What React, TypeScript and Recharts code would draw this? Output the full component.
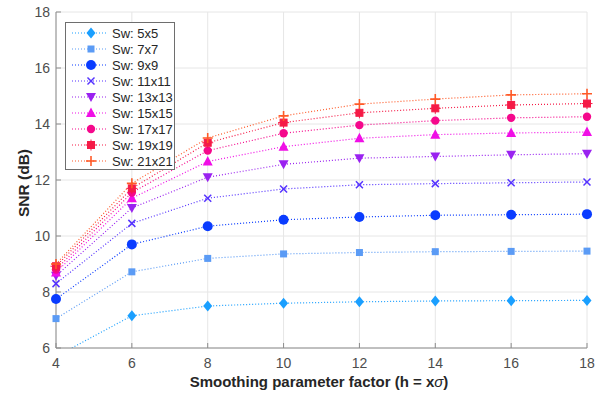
import React from "react";
import {
  LineChart,
  Line,
  XAxis,
  YAxis,
  CartesianGrid,
  Legend,
} from "recharts";

// smoothing factor h = x*sigma
const factors: number[] = [4, 6, 8, 10, 12, 14, 16, 18];

// SNR (dB) for each search window size
const sw5: number[] = [5.7, 7.15, 7.5, 7.6, 7.65, 7.68, 7.69, 7.7];
const sw7: number[] = [7.05, 8.72, 9.2, 9.36, 9.41, 9.44, 9.45, 9.46];
const sw9: number[] = [7.75, 9.7, 10.35, 10.58, 10.68, 10.74, 10.76, 10.78];
const sw11: number[] = [8.3, 10.45, 11.35, 11.68, 11.83, 11.87, 11.9, 11.93];
const sw13: number[] = [8.58, 11.0, 12.1, 12.56, 12.78, 12.84, 12.9, 12.94];
const sw15: number[] = [8.7, 11.35, 12.66, 13.19, 13.49, 13.62, 13.68, 13.71];
const sw17: number[] = [8.8, 11.55, 13.05, 13.67, 13.96, 14.12, 14.22, 14.26];
const sw19: number[] = [8.92, 11.7, 13.33, 14.05, 14.4, 14.56, 14.68, 14.73];
const sw21: number[] = [9.0, 11.88, 13.5, 14.29, 14.71, 14.89, 15.04, 15.08];

const xTicks: number[] = [4, 6, 8, 10, 12, 14, 16, 18];
const yTicks: number[] = [6, 8, 10, 12, 14, 16, 18];

type MarkerShape =
  | "diamond"
  | "square"
  | "circle"
  | "cross"
  | "triDown"
  | "triUp"
  | "dot"
  | "starSquare"
  | "plus";

interface SeriesDef {
  key: string;
  name: string;
  values: number[];
  color: string;
  shape: MarkerShape;
}

const series: SeriesDef[] = [
  { key: "s5", name: "Sw: 5x5", values: sw5, color: "#1a9fff", shape: "diamond" },
  { key: "s7", name: "Sw: 7x7", values: sw7, color: "#5b9bf5", shape: "square" },
  { key: "s9", name: "Sw: 9x9", values: sw9, color: "#0a3cff", shape: "circle" },
  { key: "s11", name: "Sw: 11x11", values: sw11, color: "#5533ff", shape: "cross" },
  { key: "s13", name: "Sw: 13x13", values: sw13, color: "#9a22f0", shape: "triDown" },
  { key: "s15", name: "Sw: 15x15", values: sw15, color: "#f00ee6", shape: "triUp" },
  { key: "s17", name: "Sw: 17x17", values: sw17, color: "#f5088c", shape: "dot" },
  { key: "s19", name: "Sw: 19x19", values: sw19, color: "#f51b47", shape: "starSquare" },
  { key: "s21", name: "Sw: 21x21", values: sw21, color: "#ff5a28", shape: "plus" },
];

const data = factors.map((x, i) => {
  const row: Record<string, number> = { x };
  series.forEach((s) => {
    row[s.key] = s.values[i];
  });
  return row;
});

const FONT = "'Liberation Sans', Arial, sans-serif";
const AXIS_COLOR = "#8c8c8c";
const TICK_COLOR = "#4d4d4d";

const Marker = ({
  cx,
  cy,
  shape,
  color,
}: {
  cx: number;
  cy: number;
  shape: MarkerShape;
  color: string;
}) => {
  switch (shape) {
    case "diamond":
      return (
        <polygon
          points={`${cx},${cy - 5.5} ${cx + 4.5},${cy} ${cx},${cy + 5.5} ${cx - 4.5},${cy}`}
          fill={color}
        />
      );
    case "square":
      return <rect x={cx - 3.5} y={cy - 3.5} width={7} height={7} fill={color} />;
    case "circle":
      return <circle cx={cx} cy={cy} r={5} fill={color} />;
    case "cross":
      return (
        <g stroke={color} strokeWidth={1.5}>
          <line x1={cx - 3.5} y1={cy - 3.5} x2={cx + 3.5} y2={cy + 3.5} />
          <line x1={cx - 3.5} y1={cy + 3.5} x2={cx + 3.5} y2={cy - 3.5} />
        </g>
      );
    case "triDown":
      return (
        <polygon
          points={`${cx - 5},${cy - 4} ${cx + 5},${cy - 4} ${cx},${cy + 5}`}
          fill={color}
        />
      );
    case "triUp":
      return (
        <polygon
          points={`${cx - 5},${cy + 4} ${cx + 5},${cy + 4} ${cx},${cy - 5.5}`}
          fill={color}
        />
      );
    case "dot":
      return <circle cx={cx} cy={cy} r={4.2} fill={color} />;
    case "starSquare":
      return (
        <g fill={color} stroke={color} strokeWidth={1}>
          <rect x={cx - 3.5} y={cy - 3.5} width={7} height={7} />
          <line x1={cx} y1={cy - 5.5} x2={cx} y2={cy + 5.5} />
          <line x1={cx - 5.5} y1={cy} x2={cx + 5.5} y2={cy} />
        </g>
      );
    case "plus":
      return (
        <g stroke={color} strokeWidth={1.6}>
          <line x1={cx - 5} y1={cy} x2={cx + 5} y2={cy} />
          <line x1={cx} y1={cy - 5} x2={cx} y2={cy + 5} />
        </g>
      );
    default:
      return null;
  }
};

// tick renderers: inward tick marks (MATLAB style) plus labels
const BottomTick = (props: any) => {
  const { x, y, payload } = props;
  return (
    <g>
      <line x1={x} y1={y} x2={x} y2={y - 5} stroke={AXIS_COLOR} />
      <text
        x={x}
        y={y + 20}
        textAnchor="middle"
        fontSize={14}
        fontFamily={FONT}
        fill={TICK_COLOR}
      >
        {payload.value}
      </text>
    </g>
  );
};

const LeftTick = (props: any) => {
  const { x, y, payload } = props;
  return (
    <g>
      <line x1={x} y1={y} x2={x + 5} y2={y} stroke={AXIS_COLOR} />
      <text
        x={x - 6}
        y={y}
        dy="0.35em"
        textAnchor="end"
        fontSize={14}
        fontFamily={FONT}
        fill={TICK_COLOR}
      >
        {payload.value}
      </text>
    </g>
  );
};

const TopTick = (props: any) => {
  const { x, y } = props;
  return <line x1={x} y1={y} x2={x} y2={y + 5} stroke={AXIS_COLOR} />;
};

const RightTick = (props: any) => {
  const { x, y } = props;
  return <line x1={x} y1={y} x2={x - 5} y2={y} stroke={AXIS_COLOR} />;
};

const LEGEND_W = 108;
const LEGEND_H = 146;

const LegendBox = () => (
  <div
    style={{
      border: "1px solid #6e6e6e",
      background: "#fff",
      width: LEGEND_W,
      height: LEGEND_H,
    }}
  >
    <svg width={LEGEND_W} height={LEGEND_H}>
      {series.map((s, i) => {
        const cy = 10 + i * 16;
        return (
          <g key={s.key}>
            <line
              x1={6}
              y1={cy}
              x2={41}
              y2={cy}
              stroke={s.color}
              strokeWidth={1.2}
              strokeDasharray="1 2"
            />
            <Marker cx={25} cy={cy} shape={s.shape} color={s.color} />
            <text
              x={46}
              y={cy}
              dy="0.35em"
              fontSize={13}
              fontFamily={FONT}
              fill="#262626"
            >
              {s.name}
            </text>
          </g>
        );
      })}
    </svg>
  </div>
);

const App = () => {
  return (
    <div
      style={{
        position: "absolute",
        left: 0,
        top: 0,
        width: 602,
        height: 396,
        background: "#fff",
      }}
    >
      <LineChart
        width={602}
        height={396}
        data={data}
        margin={{ top: 12, right: 15, bottom: 0, left: 6 }}
      >
        <CartesianGrid stroke="#e6e6e6" strokeWidth={1} />
        <XAxis
          dataKey="x"
          type="number"
          domain={[4, 18]}
          ticks={xTicks}
          height={48}
          tickSize={0}
          tickMargin={0}
          stroke={AXIS_COLOR}
          tick={<BottomTick />}
        />
        <XAxis
          xAxisId="top"
          orientation="top"
          dataKey="x"
          type="number"
          domain={[4, 18]}
          ticks={xTicks}
          height={0}
          tickSize={0}
          tickMargin={0}
          stroke={AXIS_COLOR}
          tick={<TopTick />}
        />
        <YAxis
          type="number"
          domain={[6, 18]}
          ticks={yTicks}
          allowDataOverflow
          width={50}
          tickSize={0}
          tickMargin={0}
          stroke={AXIS_COLOR}
          tick={<LeftTick />}
        />
        <YAxis
          yAxisId="right"
          orientation="right"
          type="number"
          domain={[6, 18]}
          ticks={yTicks}
          width={0}
          tickSize={0}
          tickMargin={0}
          stroke={AXIS_COLOR}
          tick={<RightTick />}
        />
        <Legend
          layout="horizontal"
          verticalAlign="middle"
          align="center"
          content={<LegendBox />}
          wrapperStyle={{ left: 65, top: 22, width: LEGEND_W + 2, height: LEGEND_H + 2 }}
        />
        {series.map((s) => (
          <Line
            key={s.key}
            dataKey={s.key}
            name={s.name}
            type="linear"
            stroke={s.color}
            strokeWidth={1.2}
            strokeDasharray="1 2"
            isAnimationActive={false}
            activeDot={false}
            dot={(p: any) => (
              <Marker
                key={`${s.key}-${p.index}`}
                cx={p.cx}
                cy={p.cy}
                shape={s.shape}
                color={s.color}
              />
            )}
          />
        ))}
        <text
          x={24}
          y={183}
          transform="rotate(-90 24 183)"
          textAnchor="middle"
          dy="0.35em"
          fontSize={15.5}
          fontWeight="bold"
          fontFamily={FONT}
          fill="#262626"
        >
          SNR (dB)
        </text>
        <text
          x={319}
          y={387}
          textAnchor="middle"
          fontSize={15}
          fontWeight="bold"
          fontFamily={FONT}
          fill="#262626"
        >
          Smoothing parameter factor (h = x
          <tspan fontStyle="italic" fontWeight="normal">σ</tspan>)
        </text>
      </LineChart>
    </div>
  );
};

export default App;
